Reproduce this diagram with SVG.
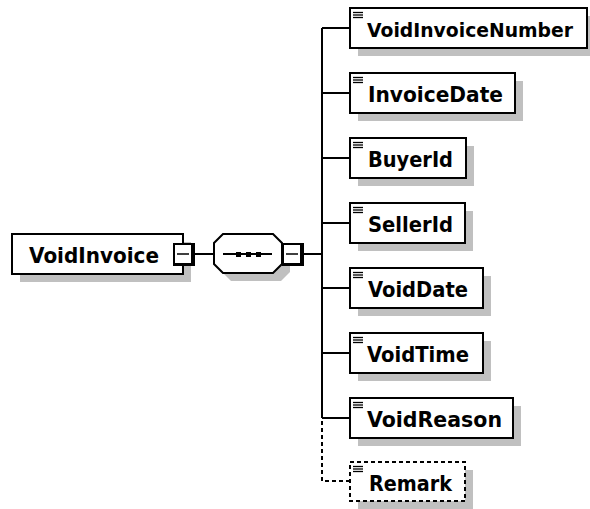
<svg xmlns="http://www.w3.org/2000/svg" width="590" height="509" viewBox="0 0 590 509">
<style>
.bg{fill:#ffffff}
.sh{fill:#c0c0c0}
.box{fill:#ffffff;stroke:#000000;stroke-width:2}
.dbox{fill:#ffffff;stroke:#000000;stroke-width:2;stroke-dasharray:4 3}
.ln{stroke:#000000;stroke-width:2;fill:none}
.dln{stroke:#000000;stroke-width:2;fill:none;stroke-dasharray:4 3}
.ic{stroke:#000000;stroke-width:1.3}
.t{font-family:"DejaVu Sans","Liberation Sans",Arial,sans-serif;font-weight:bold;font-size:21px;fill:#000000}
.tn{font-size:19.5px}
</style>
<defs>
<g id="icon"><line class="ic" x1="353" y1="4.5" x2="363" y2="4.5"/><line class="ic" x1="353" y1="7" x2="363" y2="7"/><line class="ic" x1="353" y1="9.5" x2="363" y2="9.5"/></g>
<g id="minus"><rect x="0" y="0" width="22" height="23" fill="#000000"/><rect x="2" y="2" width="16" height="18" fill="#ffffff"/><line x1="4" y1="11" x2="16" y2="11" stroke="#000000" stroke-width="1.5"/></g>
</defs>
<rect class="bg" x="0" y="0" width="590" height="509"/>
<g id="connectors">
<line class="ln" x1="195" y1="254" x2="214" y2="254"/>
<line class="ln" x1="304" y1="254" x2="322" y2="254"/>
<line class="ln" x1="322" y1="28" x2="322" y2="418"/>
<line class="ln" x1="322" y1="28" x2="350" y2="28"/>
<line class="ln" x1="322" y1="93" x2="350" y2="93"/>
<line class="ln" x1="322" y1="158" x2="350" y2="158"/>
<line class="ln" x1="322" y1="223" x2="350" y2="223"/>
<line class="ln" x1="322" y1="288" x2="350" y2="288"/>
<line class="ln" x1="322" y1="353" x2="350" y2="353"/>
<line class="ln" x1="322" y1="418" x2="350" y2="418"/>
<polyline class="dln" points="322,421 322,481 350,481"/>
</g>
<g id="VoidInvoice">
<rect class="sh" x="20" y="242" width="171" height="40"/>
<rect class="box" x="12" y="234" width="171" height="40"/>
<text class="t" x="29" y="263" textLength="130" lengthAdjust="spacingAndGlyphs">VoidInvoice</text>
<use href="#minus" x="173" y="243"/>
</g>
<g id="sequence">
<polygon class="sh" points="231,242 281,242 290,251 290,272 281,281 231,281 222,272 222,251"/>
<polygon class="box" points="223,234 273,234 282,243 282,264 273,273 223,273 214,264 214,243"/>
<line class="ln" x1="223" y1="254" x2="272" y2="254"/>
<rect x="236" y="252" width="5" height="5" fill="#000000"/>
<rect x="246" y="252" width="5" height="5" fill="#000000"/>
<rect x="256" y="252" width="5" height="5" fill="#000000"/>
<use href="#minus" x="282" y="243"/>
</g>
<g id="VoidInvoiceNumber">
<rect class="sh" x="358" y="16" width="232" height="40"/>
<rect class="box" x="350" y="8" width="237" height="40"/>
<use href="#icon" y="8"/>
<text class="t tn" x="367" y="37" textLength="206" lengthAdjust="spacingAndGlyphs">VoidInvoiceNumber</text>
</g>
<g id="InvoiceDate">
<rect class="sh" x="358" y="81" width="165" height="40"/>
<rect class="box" x="350" y="73" width="165" height="40"/>
<use href="#icon" y="73"/>
<text class="t" x="368" y="102" textLength="135" lengthAdjust="spacingAndGlyphs">InvoiceDate</text>
</g>
<g id="BuyerId">
<rect class="sh" x="358" y="146" width="116" height="40"/>
<rect class="box" x="350" y="138" width="116" height="40"/>
<use href="#icon" y="138"/>
<text class="t" x="368" y="167" textLength="85" lengthAdjust="spacingAndGlyphs">BuyerId</text>
</g>
<g id="SellerId">
<rect class="sh" x="358" y="211" width="115" height="40"/>
<rect class="box" x="350" y="203" width="115" height="40"/>
<use href="#icon" y="203"/>
<text class="t" x="368" y="232" textLength="85" lengthAdjust="spacingAndGlyphs">SellerId</text>
</g>
<g id="VoidDate">
<rect class="sh" x="358" y="276" width="133" height="40"/>
<rect class="box" x="350" y="268" width="133" height="40"/>
<use href="#icon" y="268"/>
<text class="t" x="368" y="297" textLength="100" lengthAdjust="spacingAndGlyphs">VoidDate</text>
</g>
<g id="VoidTime">
<rect class="sh" x="358" y="341" width="133" height="40"/>
<rect class="box" x="350" y="333" width="133" height="40"/>
<use href="#icon" y="333"/>
<text class="t" x="367" y="362" textLength="102" lengthAdjust="spacingAndGlyphs">VoidTime</text>
</g>
<g id="VoidReason">
<rect class="sh" x="358" y="406" width="163" height="40"/>
<rect class="box" x="350" y="398" width="163" height="40"/>
<use href="#icon" y="398"/>
<text class="t" x="367" y="427" textLength="135" lengthAdjust="spacingAndGlyphs">VoidReason</text>
</g>
<g id="Remark">
<rect class="sh" x="358" y="470" width="115" height="39"/>
<rect class="dbox" x="350" y="462" width="115" height="39"/>
<use href="#icon" y="462"/>
<text class="t" x="369" y="491" textLength="83" lengthAdjust="spacingAndGlyphs">Remark</text>
</g>
</svg>
